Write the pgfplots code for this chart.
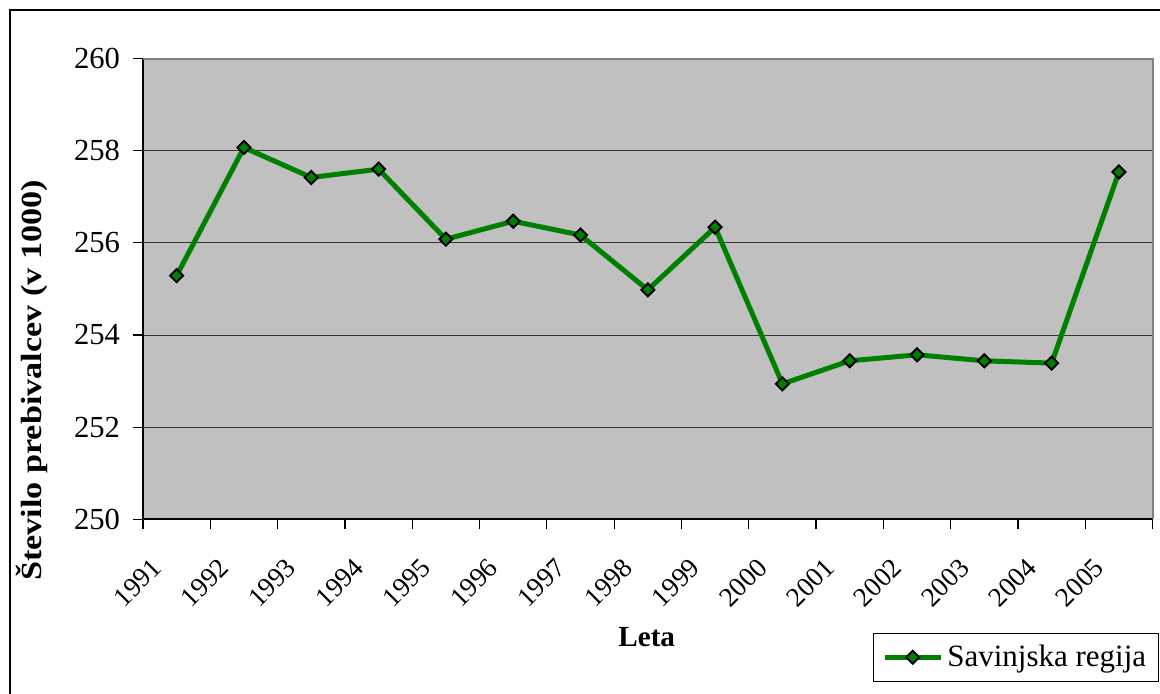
\documentclass[border=0pt]{standalone}
\usepackage{fontspec}
\setmainfont{Liberation Serif}
\usepackage{graphicx}
\usepackage{pgfplots}
\pgfplotsset{compat=1.18}
\definecolor{plotbg}{RGB}{192,192,192}
\definecolor{linegreen}{RGB}{0,128,0}
\begin{document}
\begin{tikzpicture}
\useasboundingbox (0,0) rectangle (580pt,347pt);
\draw[line width=1pt] (5pt,-2pt) -- (5pt,342pt) -- (582pt,342pt);
\begin{axis}[
  at={(71.5pt,87.35pt)}, anchor=south west,
  scale only axis, width=504.8pt, height=230.35pt,
  xmin=-0.5, xmax=14.5, ymin=250, ymax=260,
  ytick={250,252,...,260},
  xtick={0,...,14},
  xticklabels={1991,1992,1993,1994,1995,1996,1997,1998,1999,2000,2001,2002,2003,2004,2005},
  minor xtick={-0.5,0.5,...,14.5},
  xtick pos=bottom, ytick pos=left,
  major x tick style={draw=none},
  minor x tick style={black, line width=0.6pt},
  y tick style={black, line width=0.6pt},
  tick align=outside,
  major tick length=5pt, minor tick length=5pt,
  ymajorgrids,
  grid style={black!80, line width=0.5pt},
  axis line style={draw=none},
  axis background/.style={fill=plotbg},
  /pgf/number format/assume math mode=true,
  yticklabel style={font=\fontsize{15.3}{18}\selectfont, xshift=-3pt},
  xticklabel style={font=\fontsize{13.6}{16}\selectfont, xshift=-13.2pt, yshift=-8.8pt, rotate=45, anchor=north east},
  legend style={at={(1.0066,-0.2468)}, anchor=north east, draw=black, line width=0.5pt,
    font=\fontsize{15.5}{18}\selectfont, inner xsep=4.3pt, inner ysep=3.75pt, fill=white},
  legend image code/.code={%
    \draw[mark repeat=2,mark phase=2,#1] plot coordinates {(0pt,0pt) (14pt,0pt) (28pt,0pt)};},
  clip=false,
]
\addplot[color=linegreen, line width=2.5pt,
  mark=square*, mark size=2.3pt,
  mark options={rotate=45, fill=linegreen, draw=black, line width=1pt}]
  coordinates {
  (0,255.29) (1,258.07) (2,257.42) (3,257.60) (4,256.08)
  (5,256.47) (6,256.17) (7,254.98) (8,256.34) (9,252.94)
  (10,253.44) (11,253.57) (12,253.44) (13,253.39) (14,257.54)
  };
\addlegendentry{Savinjska regija}
\draw[black, line width=0.8pt] (rel axis cs:0,1) -- (rel axis cs:0,0) -- (rel axis cs:1,0);
\draw[gray, line width=1pt] (rel axis cs:0,1) -- (rel axis cs:1,1) -- (rel axis cs:1,0);
\end{axis}
\node[font=\fontsize{14.6}{17}\selectfont\bfseries] at (323.35pt,28.65pt) {Leta};
\node[font=\fontsize{14.6}{17}\selectfont\bfseries, rotate=90] at (16pt,156.75pt) {\scalebox{1.17}[1]{Število prebivalcev (v 1000)}};
\end{tikzpicture}
\end{document}
